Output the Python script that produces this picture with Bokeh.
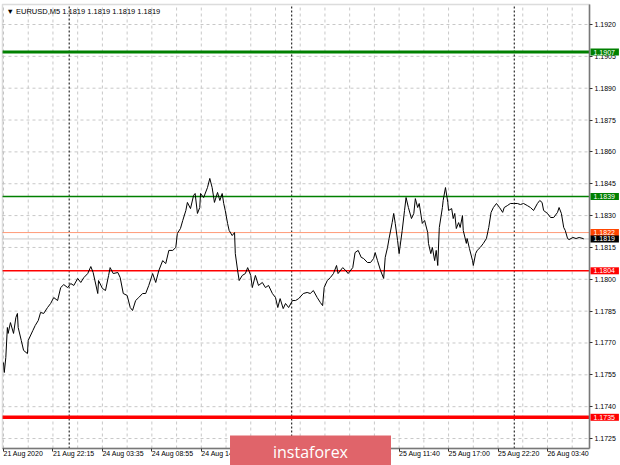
from bokeh.plotting import figure
from bokeh.models import Range1d, FixedTicker, Label, BoxAnnotation, PrintfTickFormatter
from bokeh.embed import file_html
from bokeh.resources import INLINE

# ---- data ----
bars = [0, 1, 3, 5, 6, 9, 13, 16, 18, 19, 23, 26, 31, 32, 38, 41, 45, 48, 52, 57,
        61, 65, 70, 74, 78, 83, 87, 91, 96, 100, 104, 109, 113, 116, 122, 123, 128, 132, 136, 138,
        142, 148, 151, 155, 160, 164, 167, 171, 175, 180, 184, 188, 193, 197, 201, 206, 210, 214, 219, 223,
        225, 229, 232, 236, 238, 242, 246, 248, 251, 254, 255, 259, 264, 267, 270, 273, 277, 280, 283, 285,
        287, 290, 292, 296, 299, 300, 303, 305, 309, 313, 316, 320, 322, 326, 330, 335, 339, 343, 348, 352,
        355, 358, 362, 365, 369, 374, 378, 382, 388, 393, 397, 401, 406, 410, 413, 415, 419, 423, 427, 431,
        433, 439, 443, 446, 452, 455, 459, 463, 466, 471, 475, 479, 481, 484, 488, 492, 494, 497, 499, 503,
        505, 507, 510, 512, 516, 519, 521, 524, 528, 531, 533, 536, 538, 542, 545, 549, 550, 553, 555, 558,
        560, 562, 564, 568, 569, 572, 575, 576, 580, 582, 584, 586, 589, 591, 594, 595, 599, 600, 603, 607,
        608, 611, 613, 617, 621, 625, 628, 631, 634, 638, 642, 646, 648, 652, 656, 660, 665, 669, 673, 678,
        682, 686, 691, 694, 697, 699, 704, 708, 712, 717, 719, 722, 725, 727, 730, 732, 737, 741, 745, 750,
        751]
prices = [1.17608, 1.17561, 1.17632, 1.17773, 1.17745, 1.17796, 1.17745, 1.17820, 1.17839, 1.17773,
          1.17712, 1.17665, 1.17650, 1.17712, 1.17759, 1.17782, 1.17806, 1.17844, 1.17839, 1.17867,
          1.17886, 1.17914, 1.17900, 1.17961, 1.17975, 1.17961, 1.17980, 1.17971, 1.18004, 1.17985,
          1.18008, 1.18027, 1.18060, 1.18032, 1.17933, 1.17994, 1.17957, 1.17947, 1.18018, 1.18055,
          1.18027, 1.18032, 1.18008, 1.17933, 1.17924, 1.17867, 1.17853, 1.17900, 1.17914, 1.17933,
          1.17933, 1.17971, 1.18027, 1.17985, 1.18041, 1.18088, 1.18074, 1.18136, 1.18136, 1.18150,
          1.18216, 1.18239, 1.18277, 1.18324, 1.18362, 1.18333, 1.18395, 1.18404, 1.18310, 1.18338,
          1.18404, 1.18385, 1.18432, 1.18475, 1.18432, 1.18362, 1.18409, 1.18371, 1.18404, 1.18357,
          1.18324, 1.18263, 1.18230, 1.18206, 1.18220, 1.18121, 1.18041, 1.17994, 1.18018, 1.18027,
          1.18055, 1.18018, 1.17961, 1.18018, 1.17971, 1.17985, 1.17961, 1.17971, 1.17933, 1.17914,
          1.17867, 1.17909, 1.17862, 1.17886, 1.17867, 1.17900, 1.17900, 1.17909, 1.17933, 1.17938,
          1.17933, 1.17947, 1.17914, 1.17891, 1.17876, 1.17961, 1.17994, 1.18008, 1.18027, 1.18065,
          1.18027, 1.18055, 1.18041, 1.18027, 1.18055, 1.18126, 1.18136, 1.18103, 1.18098, 1.18079,
          1.18079, 1.18098, 1.18126, 1.18088, 1.18041, 1.18004, 1.18103, 1.18150, 1.18192, 1.18267,
          1.18310, 1.18263, 1.18183, 1.18121, 1.18230, 1.18324, 1.18385, 1.18338, 1.18286, 1.18310,
          1.18380, 1.18338, 1.18357, 1.18263, 1.18277, 1.18220, 1.18169, 1.18121, 1.18150, 1.18088,
          1.18136, 1.18065, 1.18244, 1.18338, 1.18371, 1.18432, 1.18362, 1.18324, 1.18333, 1.18286,
          1.18310, 1.18239, 1.18267, 1.18244, 1.18300, 1.18230, 1.18169, 1.18192, 1.18145, 1.18088,
          1.18065, 1.18121, 1.18136, 1.18150, 1.18169, 1.18192, 1.18244, 1.18315, 1.18338, 1.18357,
          1.18338, 1.18315, 1.18338, 1.18347, 1.18357, 1.18357, 1.18357, 1.18352, 1.18357, 1.18347,
          1.18338, 1.18324, 1.18357, 1.18371, 1.18362, 1.18324, 1.18310, 1.18291, 1.18291, 1.18315,
          1.18338, 1.18310, 1.18244, 1.18230, 1.18192, 1.18187, 1.18197, 1.18192, 1.18197, 1.18192,
          1.18190]

time_tick_bars = [0, 64, 128, 192, 256, 320, 384, 448, 512, 576, 640, 704]
time_tick_labels = ["21 Aug 2020", "21 Aug 22:15", "24 Aug 03:35", "24 Aug 08:55",
                    "24 Aug 14:15", "24 Aug 19:35", "25 Aug 00:55", "25 Aug 06:15",
                    "25 Aug 11:40", "25 Aug 17:00", "25 Aug 22:20", "26 Aug 03:40"]
grid_bars = list(range(0, 760, 32))
day_break_bars = [85, 373, 661]
price_ticks = [1.1725, 1.1740, 1.1755, 1.1770, 1.1785, 1.1800, 1.1815,
               1.1830, 1.1845, 1.1860, 1.1875, 1.1890, 1.1905, 1.1920]

level_prices = [1.1907, 1.1839, 1.1822, 1.1819, 1.1804, 1.1735]
level_colors = ["#008000", "#008000", "#FF9A78", "#C8C8C8", "#FF0000", "#FF0000"]
level_widths = [3, 1.5, 1, 1, 1.5, 3.5]
level_box_colors = ["#008000", "#008000", "#FF4500", "#000000", "#FF0000", "#FF0000"]

title_text = "\u25BC EURUSD,M5  1.1819 1.1819 1.1819 1.1819"
logo_text = "instaforex"

# chart area (inside the canvas) and canvas ranges
X0, X1 = -1.3, 758.4
Y0, Y1 = 1.17203, 1.19294
XS, XE = -3.88, 798.5
YS, YE = 1.17123, 1.19313

p = figure(width=620, height=465, output_backend="svg", toolbar_location=None,
           x_range=Range1d(XS, XE), y_range=Range1d(YS, YE),
           y_axis_location="right", min_border_left=0, min_border_top=0,
           min_border_right=0, min_border_bottom=0)
p.background_fill_color = "white"
p.border_fill_color = "white"
p.outline_line_color = None
p.grid.visible = False

FONT = "Liberation Sans"

# price scale
yax = p.yaxis[0]
yax.fixed_location = X1
yax.bounds = (Y0, Y1)
yax.ticker = FixedTicker(ticks=price_ticks)
yax.formatter = PrintfTickFormatter(format="%.4f")
yax.major_label_text_font = FONT
yax.major_label_text_font_size = "7px"
yax.major_label_text_color = "#000000"
yax.major_tick_out = 3
yax.major_tick_in = 0
yax.minor_tick_out = 0
yax.minor_tick_in = 0
yax.major_label_standoff = 2
yax.axis_line_color = "#707070"
yax.axis_line_width = 1.5
yax.major_tick_line_color = "#303030"

# time scale
xax = p.xaxis[0]
xax.fixed_location = Y0
xax.bounds = (X0, X1)
xax.ticker = FixedTicker(ticks=time_tick_bars)
xax.major_label_overrides = {b: t for b, t in zip(time_tick_bars, time_tick_labels)}
xax.major_label_orientation = -0.0001
xax.major_label_text_font = FONT
xax.major_label_text_font_size = "7px"
xax.major_label_text_color = "#000000"
xax.major_tick_out = 3
xax.major_tick_in = 0
xax.minor_tick_out = 0
xax.minor_tick_in = 0
xax.major_label_standoff = 2
xax.axis_line_color = "#707070"
xax.axis_line_width = 1.5
xax.major_tick_line_color = "#303030"

# grid (dashed), limited to the chart area
p.segment(x0=X0, x1=X1, y0=price_ticks, y1=price_ticks,
          line_color="#c8c8c8", line_dash="3 3", line_width=1)
p.segment(x0=grid_bars, x1=grid_bars, y0=Y0, y1=Y1,
          line_color="#c8c8c8", line_dash="3 3", line_width=1)

# day separators
p.segment(x0=day_break_bars, x1=day_break_bars, y0=Y0, y1=Y1,
          line_color="#000000", line_dash="2 2", line_width=1)

# horizontal levels
for lv, c, w in zip(level_prices, level_colors, level_widths):
    p.segment(x0=X0, x1=X1, y0=lv, y1=lv, line_color=c, line_width=w)

# price line
p.line(bars, prices, line_color="#000000", line_width=1)

# chart border
p.add_layout(BoxAnnotation(left=X0, right=X1, bottom=Y0, top=Y1,
                           fill_alpha=0, line_color="#8a8a8a", line_width=1.5))

# level labels on the price scale
for lv, bc in zip(level_prices, level_box_colors):
    p.add_layout(Label(x=X1, y=lv, x_offset=1, text=f"{lv:.4f}",
                       text_align="left", text_baseline="middle",
                       text_font=FONT, text_font_size="7px", text_color="white",
                       background_fill_color=bc, background_fill_alpha=1.0,
                       padding=dict(left=3, right=4, top=1, bottom=1)))

# title
p.add_layout(Label(x=X0, y=Y1, x_offset=4, y_offset=-2, text=title_text,
                   text_align="left", text_baseline="top",
                   text_font=FONT, text_font_size="7.5px", text_color="#000000"))

# logo
p.add_layout(Label(x=310, y=14, x_units="screen", y_units="screen",
                   text=logo_text, text_align="center", text_baseline="middle",
                   text_font="Open Sans", text_font_size="16px", text_color="white",
                   background_fill_color="#E0646A", background_fill_alpha=1.0,
                   padding=dict(left=43, right=43, top=5, bottom=5)))

open("out.html", "w").write(file_html(p, INLINE))
